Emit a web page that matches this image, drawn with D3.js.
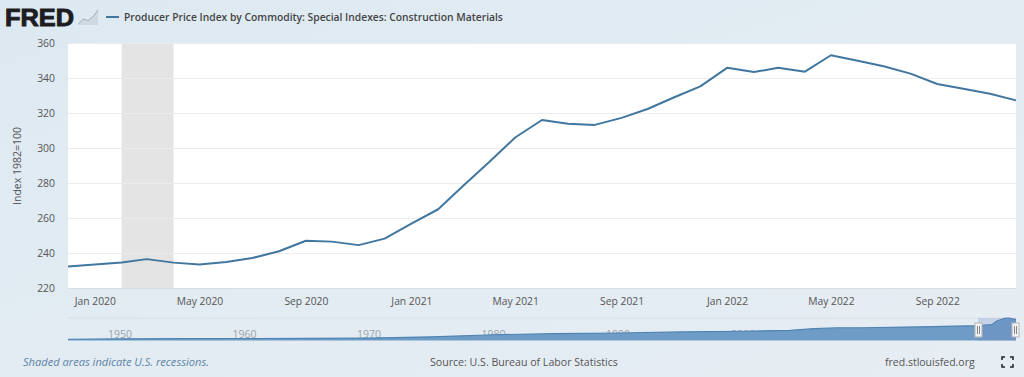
<!DOCTYPE html>
<html>
<head>
<meta charset="utf-8">
<script src="https://cdn.jsdelivr.net/npm/d3@7"></script>
<style>
  html, body { margin: 0; padding: 0; background: #e1ebf3; overflow: hidden; }
  text { font-family: "Open Sans", sans-serif; }
</style>
</head>
<body>
<div id="graphContainer"></div>
<script>
const seriesName = "Producer Price Index by Commodity: Special Indexes: Construction Materials";
const yAxisTitle = "Index 1982=100";
const months = ["2019-12","2020-01","2020-02","2020-03","2020-04","2020-05","2020-06","2020-07","2020-08","2020-09","2020-10","2020-11",
  "2020-12","2021-01","2021-02","2021-03","2021-04","2021-05","2021-06","2021-07","2021-08","2021-09","2021-10","2021-11",
  "2021-12","2022-01","2022-02","2022-03","2022-04","2022-05","2022-06","2022-07","2022-08","2022-09","2022-10","2022-11","2022-12"];
const values = [232.3,233.4,234.6,236.5,234.5,233.4,234.9,237.1,241,247,246.5,244.5,
  248.2,256.8,265,278,292,306,316,313.8,313.2,317.2,322.3,329,
  335.2,345.8,343.4,345.8,343.6,353,349.8,346.7,342.5,336.6,333.8,331,327.2];
const yTicks = [220,240,260,280,300,320,340,360];
const xTickMonths = ["2020-01","2020-05","2020-09","2021-01","2021-05","2021-09","2022-01","2022-05","2022-09"];
const recession = ["2020-02","2020-04"];
const navYears = [1945.8,1950,1955,1960,1965,1970,1975,1980,1985,1990,1995,2000,2004,2006,2008,2010,2015,2019.92,2020.5,2021,2021.4,2022,2022.34,2022.92];
const navValues = [20,26,28,31,33,38,58,90,108,118,135,145,160,185,200,200,215,232,240,248,306,346,353,327];
const navLabels = [1950,1960,1970,1980,1990,2000];
const footerLeft = "Shaded areas indicate U.S. recessions.";
const footerMid = "Source: U.S. Bureau of Labor Statistics";
const footerRight = "fred.stlouisfed.org";

const parseMonth = d3.timeParse("%Y-%m");
const margin = { top: 43, right: 8, bottom: 89, left: 68 };
const W = 1024, H = 377;
const width = W - margin.left - margin.right;
const height = H - margin.top - margin.bottom;

const svg = d3.select("#graphContainer").append("svg")
    .attr("width", W)
    .attr("height", H)
    .style("display", "block");

// Mottled page background
const defs = svg.append("defs");
const bg = defs.append("linearGradient").attr("id", "pageBg")
    .attr("x1", 0).attr("x2", 1).attr("y1", 0).attr("y2", 1);
bg.append("stop").attr("offset", "0%").attr("stop-color", "#dde9f2");
bg.append("stop").attr("offset", "55%").attr("stop-color", "#e3ecf3");
bg.append("stop").attr("offset", "100%").attr("stop-color", "#e6edf3");
svg.append("rect").attr("width", W).attr("height", H).attr("fill", "url(#pageBg)");

const chart = svg.append("g").attr("transform", `translate(${margin.left},${margin.top})`);

const x = d3.scaleTime().domain(d3.extent(months, parseMonth)).range([0, width]);
const y = d3.scaleLinear().domain([220, 360]).range([height, 0]);

chart.append("rect").attr("width", width).attr("height", height).attr("fill", "#ffffff");

// Recession band
chart.append("rect")
    .attr("x", x(parseMonth(recession[0])))
    .attr("width", x(parseMonth(recession[1])) - x(parseMonth(recession[0])))
    .attr("height", height)
    .attr("fill", "#e4e4e4");

// Grid lines and y axis
const yAxis = chart.append("g").call(d3.axisLeft(y).tickValues(yTicks).tickSize(-width));
yAxis.select(".domain").remove();
yAxis.selectAll(".tick line").attr("stroke", "#ececec");
yAxis.selectAll(".tick text").attr("fill", "#555").style("font-size", "10.4px").attr("x", -13);

// x axis
const xAxis = chart.append("g")
    .attr("transform", `translate(0,${height})`)
    .call(d3.axisBottom(x).tickValues(xTickMonths.map(parseMonth)).tickFormat(d3.timeFormat("%b %Y")).tickSize(0).tickPadding(10));
xAxis.select(".domain").attr("stroke", "#d8dde2");
xAxis.selectAll(".tick text").attr("fill", "#555").style("font-size", "10.3px");

const line = d3.line()
    .x((d, i) => x(parseMonth(months[i])))
    .y(d => y(d));
chart.append("path")
    .datum(values)
    .attr("fill", "none")
    .attr("stroke", "#41779f")
    .attr("stroke-width", 2)
    .attr("stroke-linejoin", "round")
    .attr("d", line);

// Navigator
const navTop = 318, navBottom = 340.5;
const navX = d3.scaleLinear()
    .domain([1945.8, 2000, 2019.92, 2022.92])
    .range([68, 743, 978, 1016]);
const navY = d3.scaleLinear().domain([0, 353]).range([navBottom, navTop]);
svg.append("line").attr("x1", 68).attr("x2", 1016).attr("y1", navTop).attr("y2", navTop)
    .attr("stroke", "#d8dfe5");
// labels sit under the area, the later decades get partly covered
svg.selectAll(".navLabel").data(navLabels).enter().append("text")
    .attr("class", "navLabel")
    .attr("x", d => d === 2000 ? navX(d) : 120 + (d - 1950) * 12.45)
    .attr("y", 338)
    .attr("text-anchor", "middle")
    .attr("fill", "#9aa3aa")
    .style("font-size", "10.5px")
    .text(d => d);
const navArea = d3.area()
    .x((d, i) => navX(navYears[i]))
    .y0(navBottom)
    .y1(d => navY(d));
svg.append("path").datum(navValues).attr("d", navArea).attr("fill", "#6f9cc6");
svg.append("path").datum(navValues)
    .attr("d", d3.line().x((d, i) => navX(navYears[i])).y(d => navY(d)))
    .attr("fill", "none").attr("stroke", "#4f84b3").attr("stroke-width", 1.2);
// selected range
const selA = navX(2019.92), selB = navX(2022.92);
svg.append("rect").attr("x", selA).attr("y", navTop).attr("width", selB - selA).attr("height", navBottom - navTop)
    .attr("fill", "#6685c2").attr("opacity", 0.25);
[selA, selB - 1].forEach(hx => {
    svg.append("rect").attr("x", hx - 3).attr("y", 323).attr("width", 7).attr("height", 14)
        .attr("fill", "#f2f2f2").attr("stroke", "#b5b5b5");
    [-1, 1].forEach(o => svg.append("line").attr("x1", hx + 0.5 + o).attr("x2", hx + 0.5 + o).attr("y1", 326).attr("y2", 334)
        .attr("stroke", "#888"));
});

// Header
svg.append("text").attr("x", 5).attr("y", 26)
    .attr("fill", "#1d1d1f")
    .style("font-family", '"Liberation Sans", sans-serif')
    .style("font-weight", 700).style("font-size", "23px").attr("stroke", "#1d1d1f").attr("stroke-width", 0.9)
    .attr("textLength", 69).attr("lengthAdjust", "spacingAndGlyphs")
    .text("FRED");
// little graph icon beside the logo
const iconX = d3.scaleLinear().domain([0, 4]).range([78, 98]);
const iconY = d3.scaleLinear().domain([0, 4]).range([25, 10]);
const iconData = [0.2, 1.6, 1.2, 2.2, 4];
svg.append("path").datum(iconData)
    .attr("d", d3.area().x((d, i) => iconX(i)).y0(25).y1(d => iconY(d)))
    .attr("fill", "#cfd9e1");
svg.append("path").datum(iconData)
    .attr("d", d3.line().x((d, i) => iconX(i)).y(d => iconY(d)))
    .attr("fill", "none").attr("stroke", "#9db0bd").attr("stroke-width", 1);

svg.append("line").attr("x1", 106).attr("x2", 119).attr("y1", 17).attr("y2", 17)
    .attr("stroke", "#41779f").attr("stroke-width", 2);
svg.append("text").attr("x", 124).attr("y", 21)
    .attr("fill", "#444").style("font-size", "10.3px").style("font-weight", 600)
    .text(seriesName);

// y axis title
svg.append("text")
    .attr("transform", "translate(21,166) rotate(-90)")
    .attr("text-anchor", "middle")
    .attr("fill", "#555")
    .style("font-size", "10.5px")
    .text(yAxisTitle);

// Footer
svg.append("text").attr("x", 23).attr("y", 366).attr("fill", "#5f84a6")
    .style("font-size", "11.1px").style("font-style", "italic").text(footerLeft);
svg.append("text").attr("x", 430).attr("y", 366).attr("fill", "#555")
    .style("font-size", "10.6px").text(footerMid);
svg.append("text").attr("x", 885).attr("y", 366).attr("fill", "#555")
    .style("font-size", "10.5px").text(footerRight);

// Fullscreen icon
const fsCorners = [[1002, 357, 1, 1], [1013, 357, -1, 1], [1002, 367, 1, -1], [1013, 367, -1, -1]];
fsCorners.forEach(c => {
    svg.append("path")
        .attr("d", `M${c[0] + 3 * c[2]},${c[1]}H${c[0]}V${c[1] + 3 * c[3]}`)
        .attr("fill", "none").attr("stroke", "#222").attr("stroke-width", 1.5);
});
</script>
</body>
</html>
